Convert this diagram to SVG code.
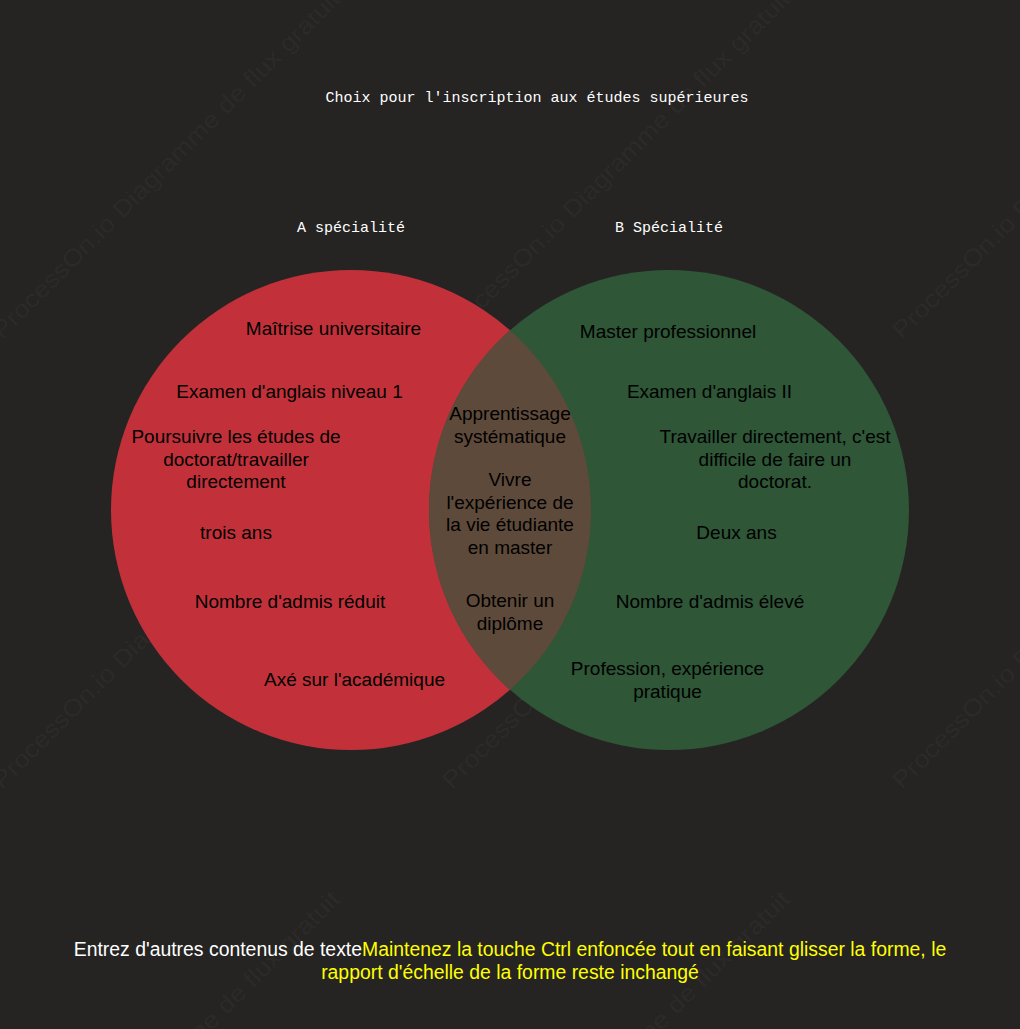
<svg xmlns="http://www.w3.org/2000/svg" width="1020" height="1029" viewBox="0 0 1020 1029">
<defs>
<style>
.bg{fill:#252423}
.mono{font-family:"Liberation Mono","DejaVu Sans Mono",monospace;font-size:15px;fill:#ffffff;text-anchor:middle}
.lbl{font-family:"Liberation Sans",Arial,sans-serif;font-size:19px;fill:#000000;text-anchor:middle}
.foot{font-family:"Liberation Sans",Arial,sans-serif;font-size:19.4px;text-anchor:middle}
.wm{font-family:"Liberation Sans",Arial,sans-serif;font-size:24px;fill:#ffffff;fill-opacity:0.045}
</style>
</defs>
<rect class="bg" x="0" y="0" width="1020" height="1029"/>
<g id="watermarks">
<text class="wm" transform="translate(2,340) rotate(-45)" textLength="480" lengthAdjust="spacingAndGlyphs">ProcessOn.io Diagramme de flux gratuit</text>
<text class="wm" transform="translate(452,340) rotate(-45)" textLength="480" lengthAdjust="spacingAndGlyphs">ProcessOn.io Diagramme de flux gratuit</text>
<text class="wm" transform="translate(902,340) rotate(-45)" textLength="480" lengthAdjust="spacingAndGlyphs">ProcessOn.io Diagramme de flux gratuit</text>
<text class="wm" transform="translate(2,790) rotate(-45)" textLength="480" lengthAdjust="spacingAndGlyphs">ProcessOn.io Diagramme de flux gratuit</text>
<text class="wm" transform="translate(452,790) rotate(-45)" textLength="480" lengthAdjust="spacingAndGlyphs">ProcessOn.io Diagramme de flux gratuit</text>
<text class="wm" transform="translate(902,790) rotate(-45)" textLength="480" lengthAdjust="spacingAndGlyphs">ProcessOn.io Diagramme de flux gratuit</text>
<text class="wm" transform="translate(2,1240) rotate(-45)" textLength="480" lengthAdjust="spacingAndGlyphs">ProcessOn.io Diagramme de flux gratuit</text>
<text class="wm" transform="translate(452,1240) rotate(-45)" textLength="480" lengthAdjust="spacingAndGlyphs">ProcessOn.io Diagramme de flux gratuit</text>
</g>
<g id="title"><text class="mono" x="537" y="102">Choix pour l'inscription aux études supérieures</text></g>
<g id="label-a"><text class="mono" x="351" y="232">A spécialité</text></g>
<g id="label-b"><text class="mono" x="669" y="232">B Spécialité</text></g>
<g id="circle-a">
<circle cx="351" cy="510" r="240" fill="#c2313a"/>
<text class="lbl" x="333.5" y="335">Maîtrise universitaire</text>
<text class="lbl" x="289.5" y="398">Examen d'anglais niveau 1</text>
<text class="lbl" x="236" y="443">Poursuivre les études de</text>
<text class="lbl" x="236" y="466">doctorat/travailler</text>
<text class="lbl" x="236" y="488">directement</text>
<text class="lbl" x="236" y="539">trois ans</text>
<text class="lbl" x="290" y="608">Nombre d'admis réduit</text>
<text class="lbl" x="354.5" y="686">Axé sur l'académique</text>
</g>
<g id="circle-b">
<circle cx="669" cy="510" r="240" fill="#2e5637"/>
<text class="lbl" x="668" y="338">Master professionnel</text>
<text class="lbl" x="709.5" y="398">Examen d'anglais II</text>
<text class="lbl" x="775" y="443">Travailler directement, c'est</text>
<text class="lbl" x="775" y="466">difficile de faire un</text>
<text class="lbl" x="775" y="488">doctorat.</text>
<text class="lbl" x="736.5" y="539">Deux ans</text>
<text class="lbl" x="710" y="608">Nombre d'admis élevé</text>
<text class="lbl" x="667.5" y="675">Profession, expérience</text>
<text class="lbl" x="667.5" y="698">pratique</text>
</g>
<g id="overlap">
<path d="M510,330.2 A240,240 0 0,1 510,689.8 A240,240 0 0,1 510,330.2 Z" fill="#5e4a3a"/>
<text class="lbl" x="510" y="420">Apprentissage</text>
<text class="lbl" x="510" y="443">systématique</text>
<text class="lbl" x="510" y="486">Vivre</text>
<text class="lbl" x="510" y="509">l'expérience de</text>
<text class="lbl" x="510" y="531">la vie étudiante</text>
<text class="lbl" x="510" y="554">en master</text>
<text class="lbl" x="510" y="607">Obtenir un</text>
<text class="lbl" x="510" y="630">diplôme</text>
</g>
<g id="connectors"/>
<g id="footer">
<text class="foot" x="510" y="956"><tspan fill="#ffffff">Entrez d'autres contenus de texte</tspan><tspan fill="#ffff00">Maintenez la touche Ctrl enfoncée tout en faisant glisser la forme, le</tspan></text>
<text class="foot" x="510" y="979" fill="#ffff00">rapport d'échelle de la forme reste inchangé</text>
</g>
</svg>
